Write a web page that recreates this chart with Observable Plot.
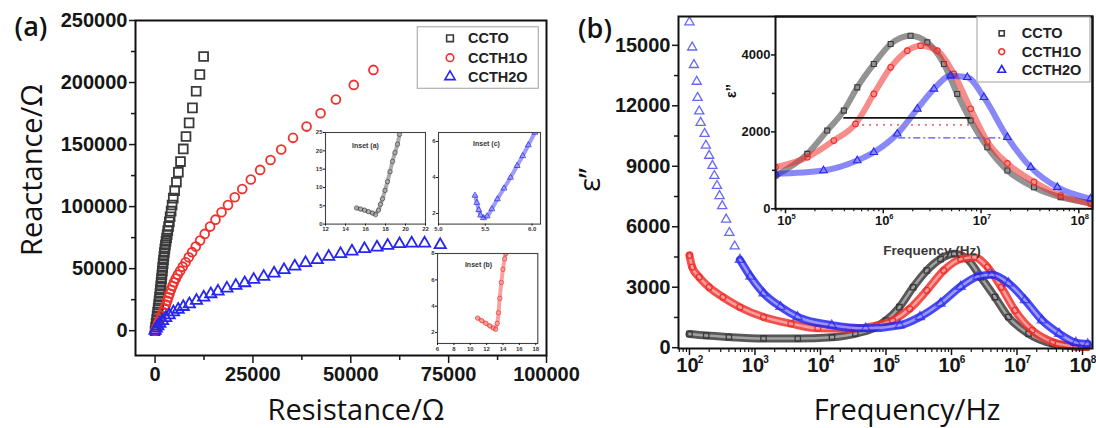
<!DOCTYPE html>
<html><head><meta charset="utf-8">
<script src="https://cdn.jsdelivr.net/npm/d3@7"></script>
<script src="https://cdn.jsdelivr.net/npm/@observablehq/plot@0.6"></script>
<style>
body{margin:0;background:#fff;}
#wrap{position:relative;width:1096px;height:428px;overflow:hidden;background:#fff;}
.layer{position:absolute;}
.layer svg{display:block;max-width:none;}
.t{position:absolute;white-space:nowrap;transform:translate(-50%,-50%);color:#111;}
.big{font-family:"Open Sans",sans-serif;font-size:29px;font-weight:500;}
.small{font-family:"Liberation Sans",Arial,sans-serif;font-weight:bold;}
</style></head><body><div id="wrap"></div>
<script>
// ---------- shared ----------
const seriesNames = ["CCTO", "CCTH1O", "CCTH2O"];
const seriesColors = ["#3a3a3a", "#f0302c", "#2626f2"];
const seriesSymbols = ["square", "circle", "triangle"];

// ---------- panel (a): Nyquist plot [Resistance, Reactance] ----------
const nyquistCCTO = [[0,0],[140,3000],[270,6000],[400,9000],[530,12000],[660,15000],[790,18000],[910,21000],[1030,24000],[1150,27000],[1250,30000],[1350,33000],[1450,36000],[1550,39000],[1650,42000],[1750,45000],[1850,48000],[1950,51000],[2050,54000],[2150,57000],[2260,60000],[2380,63000],[2500,66000],[2650,69000],[2800,72000],[2950,74700],[3100,77500],[3250,80600],[3450,84000],[3650,87700],[3850,91800],[4100,96300],[4350,101300],[4650,106800],[5000,112900],[5450,119600],[5950,127700],[6500,136300],[7200,146500],[7900,156500],[8700,167500],[9550,179600],[10500,193000],[11450,206500],[12400,221000]];
const nyquistCCTH1O = [[0,0],[400,3000],[800,6000],[1200,9000],[1600,12000],[2000,15000],[2400,18000],[2750,21000],[3100,24000],[3400,27000],[3700,30000],[4050,33000],[4450,36000],[4850,39000],[5300,42000],[5800,45000],[6400,48200],[7050,51600],[7800,55200],[8600,59100],[9450,63300],[10400,67800],[11500,72600],[12680,78000],[14060,83900],[15440,89500],[16980,95400],[18630,101300],[20350,107500],[22270,114200],[24460,121800],[26840,129600],[29490,137600],[32230,146000],[35240,155400],[38710,164500],[42280,175200],[46200,186300],[50770,198100],[55780,210200]];
const nyquistCCTH2O = [[0,0],[300,1800],[700,3700],[1200,5800],[1900,8000],[2700,10300],[3600,12600],[4700,14900],[5900,17100],[7200,19300],[8760,21500],[10580,24190],[12420,26880],[14240,29570],[16080,31690],[18350,34110],[20630,36290],[22900,38440],[25200,41130],[27760,43550],[30400,46210],[32950,48950],[35690,51850],[38440,54600],[41440,57010],[44370,59680],[47390,61850],[50300,63950],[53500,65900],[56700,67200],[59430,68550],[62450,69900],[65550,70400],[68840,70400],[72850,69100]];
const resistanceTicks = [0, 25000, 50000, 75000, 100000];
const resistanceMinorTicks = [12500, 37500, 62500, 87500];
const reactanceTicks = [0, 50000, 100000, 150000, 200000, 250000];
const reactanceMinorTicks = [25000, 75000, 125000, 175000, 225000];

// insets of panel (a)
const insetA_CCTO = [[15.1,4.4],[15.5,4.1],[15.9,3.8],[16.3,3.4],[16.7,3.0],[17.0,2.6],[17.3,3.8],[17.5,5.4],[17.7,6.9],[17.95,9.2],[18.2,11.6],[18.45,14.3],[18.7,17.1],[18.95,19.5],[19.2,21.8],[19.4,24.5]];
const insetB_CCTH1O = [[10.9,3.1],[11.4,2.9],[11.9,2.7],[12.4,2.5],[12.8,2.35],[13.1,2.25],[13.3,2.7],[13.45,3.5],[13.6,4.6],[13.8,5.8],[14.0,6.8],[14.2,7.6],[14.33,8.0]];
const insetC_CCTH2O = [[5.39,3.0],[5.41,2.6],[5.43,2.2],[5.45,1.9],[5.48,1.75],[5.52,1.85],[5.57,2.25],[5.63,2.8],[5.7,3.4],[5.77,4.0],[5.84,4.65],[5.9,5.2],[5.96,5.8],[6.03,6.5]];
const insetATicksX = [12,14,16,18,20,22], insetATicksY = [0,5,10,15,20,25];
const insetBTicksX = [6,8,10,12,14,16,18], insetBTicksY = [2,4,6,8];
const insetCTicksX = [5.0,5.5,6.0], insetCTicksY = [2,4,6];

// ---------- panel (b): dielectric loss [frequency Hz, eps''] ----------
const lossCCTO = [[100,680],[180,600],[400,530],[1350,460],[4500,450],[1.5e4,520],[3.4e4,690],[6.2e4,940],[1e5,1350],[1.6e5,2010],[2.6e5,3000],[4.2e5,3830],[6.8e5,4400],[1.1e6,4660],[1.74e6,4400],[2.8e6,3500],[4.6e6,2510],[7.4e6,1520],[1.5e7,690],[3.5e7,200],[7.9e7,60],[1.15e8,30]];
const lossCCTH1O = [[100,4580],[110,4000],[141,3500],[200,3000],[324,2510],[589,2010],[1350,1520],[3550,1190],[9100,960],[2.7e4,940],[7.1e4,1100],[1.26e5,1350],[2.3e5,1930],[4.2e5,2840],[7.6e5,3830],[1.38e6,4400],[2.24e6,4490],[3.55e6,4000],[5.75e6,3000],[9.3e6,1850],[1.7e7,860],[3.5e7,280],[7.9e7,60],[1.15e8,30]];
const lossCCTH2O = [[100,16150],[110,14900],[117,14030],[129,13200],[133,12400],[141,11730],[148,11165],[170,10615],[178,10030],[200,9530],[224,9030],[240,8530],[263,8030],[288,7530],[316,7030],[363,6365],[407,5700],[490,5030],[589,4365],[851,3530],[1350,2700],[2450,2030],[4470,1530],[1.48e4,1115],[4.9e4,960],[1.62e5,1115],[3.3e5,1530],[6.8e5,2200],[1.38e6,3030],[2.5e6,3530],[4.1e6,3615],[7.4e6,3200],[1.32e7,2365],[2.4e7,1365],[4.4e7,700],[7.9e7,250],[1.2e8,180]];
const freqTicks = [1e2,1e3,1e4,1e5,1e6,1e7,1e8];
const freqExponents = ["2","3","4","5","6","7","8"];
const freqMinorTicks = [2,3,4,5,6,7,8,9].flatMap(m => [1e1,1e2,1e3,1e4,1e5,1e6,1e7].map(p => m*p));
const lossTicks = [0,3000,6000,9000,12000,15000];
const lossMinorTicks = [1500,4500,7500,10500,13500];

// inset of panel (b)
const zoomCCTO = [[7.9e4,865],[1.67e5,1428],[2.67e5,2034],[3.95e5,2553],[5.42e5,3158],[8.0e5,3766],[1.19e6,4286],[1.9e6,4500],[2.82e6,4327],[4.17e6,3766],[5.71e6,2987],[7.83e6,2294],[1.16e7,1600],[1.86e7,995],[3.48e7,561],[6.53e7,301],[1.32e8,145]];
const zoomCCTH1O = [[7.9e4,1081],[1.67e5,1340],[3.12e5,1774],[5.2e5,2208],[8.0e5,2987],[1.19e6,3678],[1.76e6,4112],[2.41e6,4242],[3.57e6,4112],[5.28e6,3506],[7.83e6,2600],[1.16e7,1750],[1.86e7,1180],[3.48e7,700],[6.53e7,345],[1.32e8,130]];
const zoomCCTH2O = [[7.9e4,909],[2.45e5,995],[5.42e5,1255],[8.0e5,1470],[1.39e6,1948],[2.23e6,2597],[3.3e6,3117],[4.89e6,3462],[7.24e6,3420],[1.07e7,2900],[1.86e7,1860],[3.22e7,1081],[6.03e7,561],[1.32e8,260]];
const halfMaxLines = [[3.95e5,7.83e6,2364],[5.2e5,8.4e6,2182],[1.44e6,1.87e7,1844]];
const zoomFreqTicks = [1e5,1e6,1e7,1e8];
const zoomFreqExponents = ["5","6","7","8"];
const zoomFreqMinorTicks = [2,3,4,5,6,7,8,9].flatMap(m => [1e4,1e5,1e6,1e7].map(p => m*p));
const zoomLossTicks = [0,2000,4000];
const zoomLossMinorTicks = [1000,3000];

// ---------- helpers ----------
const wrap = document.getElementById("wrap");
const FONT = '"Liberation Sans", Arial, sans-serif';
function place(node, left, top) {
  const d = document.createElement("div");
  d.className = "layer"; d.style.left = left + "px"; d.style.top = top + "px";
  d.appendChild(node); wrap.appendChild(d); return d;
}
function label(text, x, y, cls, extra) {
  const d = document.createElement("div");
  d.className = "t " + cls; d.textContent = text;
  d.style.left = x + "px"; d.style.top = y + "px";
  Object.assign(d.style, extra || {});
  wrap.appendChild(d);
}
const pts = arr => arr.map(([x, y]) => ({x, y}));
const baseStyle = {background: "transparent", fontFamily: FONT, fontWeight: "bold", color: "#161616", overflow: "visible", maxWidth: "none"};

// ---------- panel (a) ----------
const nyq = [nyquistCCTO, nyquistCCTH1O, nyquistCCTH2O];
const nyqR = [5, 4.4, 4.2];
const plotA = Plot.plot({
  width: 600, height: 428,
  marginLeft: 135, marginRight: 54, marginTop: 20, marginBottom: 73,
  x: {type: "linear", domain: [-5000, 100000], label: null},
  y: {type: "linear", domain: [-20000, 250000], label: null},
  style: {...baseStyle, fontSize: "20px"},
  marks: [
    ...nyq.map((s, i) => Plot.dot(pts(s), {x: "x", y: "y", symbol: seriesSymbols[i], r: nyqR[i], stroke: seriesColors[i], fill: "none", strokeWidth: 1.8})),
    Plot.frame({stroke: "#111", strokeWidth: 2}),
    Plot.axisY(reactanceTicks, {tickSize: 6, tickPadding: 2, tickFormat: d3.format("d"), label: null, fontSize: 20, fontWeight: "bold", strokeWidth: 1.5}),
    Plot.axisY(reactanceMinorTicks, {tickSize: 4, tickFormat: () => "", label: null, strokeWidth: 1.5}),
    Plot.axisX(resistanceTicks, {tickSize: 8, tickPadding: 3, tickFormat: d3.format("d"), label: null, fontSize: 20, fontWeight: "bold", strokeWidth: 1.5}),
    Plot.axisX(resistanceMinorTicks, {tickSize: 5, tickFormat: () => "", label: null, strokeWidth: 1.5})
  ]
});
place(plotA, 0, 0);

function smallInset(data, color, symbol, xd, yd, xt, yt, fmt, frame, name, nameDx, nameDy) {
  const [L, T, R, B] = frame;
  const ml = 16, mt = 2, mr = 6, mb = 12;
  const p = Plot.plot({
    width: (R - L) + ml + mr, height: (B - T) + mt + mb,
    marginLeft: ml, marginTop: mt, marginRight: mr, marginBottom: mb,
    x: {domain: xd, label: null}, y: {domain: yd, label: null},
    style: {...baseStyle, fontSize: "6px"},
    marks: [
      Plot.frame({fill: "white", stroke: "none"}),
      Plot.line(pts(data), {x: "x", y: "y", stroke: color, strokeWidth: 4, strokeOpacity: 0.45, curve: "monotone-y", clip: true}),
      Plot.dot(pts(data), {x: "x", y: "y", symbol, r: 2.2, stroke: color, strokeOpacity: 0.8, fill: "none", strokeWidth: 0.9, clip: true}),
      Plot.frame({stroke: "#444", strokeWidth: 1.1}),
      Plot.axisX(xt, {tickSize: 2, tickPadding: 1, label: null, fontSize: 6, tickFormat: fmt, fill: "#333"}),
      Plot.axisY(yt, {tickSize: 2, tickPadding: 1, label: null, fontSize: 6, fill: "#333"}),
      Plot.text([name], {frameAnchor: "top-left", dx: nameDx, dy: nameDy, text: d => d, fontSize: 7, fontWeight: "bold", fill: "#333", textAnchor: "middle"})
    ]
  });
  place(p, L - ml, T - mt);
}
smallInset(insetA_CCTO, "#444", "circle", [12, 22], [0, 25], insetATicksX, insetATicksY, d => String(d), [325, 131.7, 425, 223.3], "Inset (a)", 40, 11);
smallInset(insetC_CCTH2O, seriesColors[2], "triangle", [5.0, 6.09], [1.41, 6.5], insetCTicksX, insetCTicksY, d3.format(".1f"), [438, 131.7, 540, 223.3], "Inset (c)", 48, 9);
smallInset(insetB_CCTH1O, seriesColors[1], "circle", [6, 18.25], [1.17, 8.0], insetBTicksX, insetBTicksY, d => String(d), [436.7, 252.7, 537, 342.7], "Inset (b)", 41, 9);

// ---------- panel (b) ----------
const loss = [lossCCTO, lossCCTH1O, lossCCTH2O];
const bandMarks = [];
loss.forEach((s, i) => {
  const band = i === 2 ? s.filter(d => d[0] >= 580) : s;
  bandMarks.push(Plot.line(pts(band), {x: "x", y: "y", stroke: seriesColors[i], strokeWidth: 8, strokeOpacity: 0.85, curve: "monotone-x"}));
  bandMarks.push(Plot.line(pts(band), {x: "x", y: "y", stroke: "white", strokeWidth: 2.5, strokeOpacity: 0.45, curve: "monotone-x"}));
  bandMarks.push(Plot.dot(pts(s), {x: "x", y: "y", symbol: seriesSymbols[i], r: i === 2 ? 3.4 : 3, stroke: seriesColors[i], strokeOpacity: i === 2 ? 0.7 : 1, fill: "none", strokeWidth: 1.3}));
});
const plotB = Plot.plot({
  width: 536, height: 428,
  marginLeft: 118, marginRight: 4, marginTop: 16, marginBottom: 80,
  x: {type: "log", domain: [68, 1.42e8], label: null},
  y: {type: "linear", domain: [-40, 16430], label: null},
  style: {...baseStyle, fontSize: "20px"},
  marks: [
    ...bandMarks,
    Plot.frame({stroke: "#111", strokeWidth: 2}),
    Plot.axisY(lossTicks, {tickSize: 6, tickPadding: 2, tickFormat: d3.format("d"), label: null, fontSize: 20, fontWeight: "bold", strokeWidth: 1.5}),
    Plot.axisY(lossMinorTicks, {tickSize: 4, tickFormat: () => "", label: null, strokeWidth: 1.5}),
    Plot.axisX(freqTicks, {tickSize: 7, tickFormat: () => "", label: null, strokeWidth: 1.5}),
    Plot.axisX(freqMinorTicks.filter(f => f > 68 && f < 1.42e8), {tickSize: 4, tickFormat: () => "", label: null, strokeWidth: 1.2}),
    Plot.text(freqTicks, {x: d => d, frameAnchor: "bottom", dy: 23, dx: -2, text: () => "10", fontSize: 20, fontWeight: "bold"}),
    Plot.text(freqTicks, {x: d => d, frameAnchor: "bottom", dy: 14, dx: 11, text: (d, i) => freqExponents[i], fontSize: 10, fontWeight: "bold"})
  ]
});
place(plotB, 560, 0);

// inset of (b)
const zoomData = [zoomCCTO, zoomCCTH1O, zoomCCTH2O];
const zMarks = [];
zoomData.forEach((s, i) => {
  zMarks.push(Plot.line(pts(s), {x: "x", y: "y", stroke: seriesColors[i], strokeWidth: 6, strokeOpacity: 0.55, curve: "monotone-x", clip: true}));
  zMarks.push(Plot.dot(pts(s), {x: "x", y: "y", symbol: seriesSymbols[i], r: 2.8, stroke: seriesColors[i], fill: "none", strokeWidth: 1.1, clip: true}));
});
const hm = halfMaxLines.map(([f1, f2, v], i) => ({f1, f2, v, i}));
const plotZ = Plot.plot({
  width: 361, height: 262,
  marginLeft: 40, marginTop: 6, marginRight: 4, marginBottom: 63.7,
  x: {type: "log", domain: [7.9e4, 1.38e8], label: null},
  y: {type: "linear", domain: [0, 5000], label: null},
  style: {...baseStyle, fontSize: "13px"},
  marks: [
    ...zMarks,
    Plot.ruleY(hm.filter(d => d.i === 0), {y: "v", x1: "f1", x2: "f2", stroke: "#111", strokeWidth: 1.6}),
    Plot.ruleY(hm.filter(d => d.i === 1), {y: "v", x1: "f1", x2: "f2", stroke: "#f07070", strokeWidth: 1.6, strokeDasharray: "2,5"}),
    Plot.ruleY(hm.filter(d => d.i === 2), {y: "v", x1: "f1", x2: "f2", stroke: "#5050f0", strokeWidth: 1.4, strokeDasharray: "7,3,2,3"}),
    Plot.frame({stroke: "#111", strokeWidth: 2}),
    Plot.axisY(zoomLossTicks, {tickSize: 4, tickPadding: 1, tickFormat: d3.format("d"), label: null, fontSize: 13, fontWeight: "bold", strokeWidth: 1.5}),
    Plot.axisY(zoomLossMinorTicks, {tickSize: 3, tickFormat: () => "", label: null, strokeWidth: 1.5}),
    Plot.axisX(zoomFreqTicks, {tickSize: 5, tickFormat: () => "", label: null, strokeWidth: 1.5}),
    Plot.axisX(zoomFreqMinorTicks.filter(f => f > 7.9e4 && f < 1.38e8), {tickSize: 3, tickFormat: () => "", label: null, strokeWidth: 1.2}),
    Plot.text(zoomFreqTicks, {x: d => d, frameAnchor: "bottom", dy: 16, dx: -1, text: () => "10", fontSize: 13, fontWeight: "bold"}),
    Plot.text(zoomFreqTicks, {x: d => d, frameAnchor: "bottom", dy: 10, dx: 8, text: (d, i) => zoomFreqExponents[i], fontSize: 7.5, fontWeight: "bold"})
  ]
});
place(plotZ, 735, 10);

// ---------- legends (overlay) ----------
const ov = d3.create("svg").attr("width", 1096).attr("height", 428).style("display", "block").style("overflow", "visible");
function legend(box, sx, tx, rows, rr, fs) {
  ov.append("rect").attr("x", box[0]).attr("y", box[1]).attr("width", box[2]).attr("height", box[3])
    .attr("fill", "white").attr("stroke", "#b0b0b0").attr("stroke-width", 1.2);
  seriesNames.forEach((n, i) => {
    const sym = [d3.symbolSquare, d3.symbolCircle, d3.symbolTriangle][i];
    ov.append("path").attr("d", d3.symbol(sym, Math.PI * rr * rr)()).attr("transform", `translate(${sx},${rows[i]})`)
      .attr("fill", "none").attr("stroke", seriesColors[i]).attr("stroke-width", 1.6);
    ov.append("text").attr("x", tx).attr("y", rows[i]).attr("dy", "0.35em").attr("font-family", FONT)
      .attr("font-weight", "bold").attr("font-size", fs).attr("fill", "#222").text(n);
  });
}
legend([417.3, 26.7, 121, 61.6], 450, 468, [38.3, 57.7, 76.7], 3.8, 14.5);
legend([977, 17, 113, 65], 1001.7, 1021.7, [33.3, 51.7, 70], 2.9, 14.5);
place(ov.node(), 0, 0);

// ---------- titles ----------
label("(a)", 31, 25, "big", {fontWeight: "600", fontSize: "27px"});
label("(b)", 595, 27, "big", {fontWeight: "600", fontSize: "27px"});
label("Reactance/Ω", 30, 170, "big", {transform: "translate(-50%,-50%) rotate(-90deg)"});
label("Resistance/Ω", 356, 408, "big");
label("ε’’", 588, 180, "big", {transform: "translate(-50%,-50%) rotate(-90deg)"});
label("Frequency/Hz", 907, 408, "big");
label("Frequency (Hz)", 932, 250, "small", {fontSize: "13.5px", color: "#3a3a3a"});
label("ε’’", 731, 91, "small", {fontSize: "14px", transform: "translate(-50%,-50%) rotate(-90deg)"});
</script></body></html>
